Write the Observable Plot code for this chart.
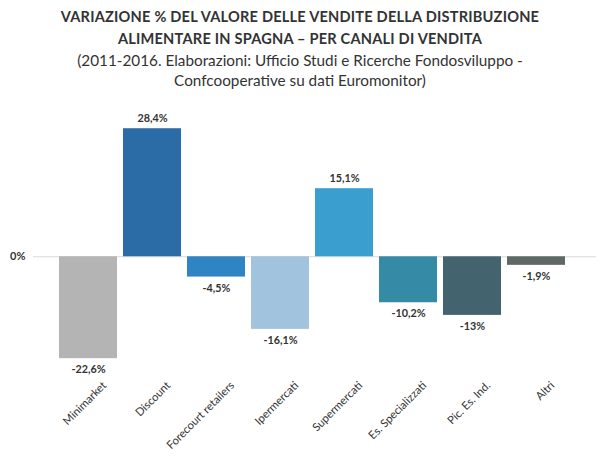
<!DOCTYPE html>
<html>
<head>
<meta charset="utf-8">
<script src="https://cdn.jsdelivr.net/npm/d3@7"></script>
<script src="https://cdn.jsdelivr.net/npm/@observablehq/plot@0.6"></script>
<style>
  html, body { margin: 0; padding: 0; background: #fff; }
  body { width: 600px; height: 458px; overflow: hidden; font-family: Lato, "Open Sans", sans-serif; }
  #title { text-align: center; color: #333; font-weight: 700; font-size: 14.6px; line-height: 22px; letter-spacing: 0.2px; margin-top: 6px; }
  #subtitle { text-align: center; color: #333; font-size: 15.3px; line-height: 20px; margin-top: 0px; }
  #chart { position: absolute; top: 95px; left: 0; }
</style>
</head>
<body>
<div id="title">VARIAZIONE % DEL VALORE DELLE VENDITE DELLA DISTRIBUZIONE<br>ALIMENTARE IN SPAGNA – PER CANALI DI VENDITA</div>
<div id="subtitle">(2011-2016. Elaborazioni: Ufficio Studi e Ricerche Fondosviluppo -<br>Confcooperative su dati Euromonitor)</div>
<div id="chart"></div>
<script>
const categories = ["Minimarket", "Discount", "Forecourt retailers", "Ipermercati", "Supermercati", "Es. Specializzati", "Pic. Es. Ind.", "Altri"];
const values = [-22.6, 28.4, -4.5, -16.1, 15.1, -10.2, -13, -1.9];
const colors = ["#b4b4b4", "#2b6ca6", "#2f84c3", "#a2c3dd", "#3a9fcf", "#358ba5", "#43646e", "#5e6966"];

const data = categories.map((c, i) => ({cat: c, value: values[i], color: colors[i]}));
const fmt = v => String(v).replace(".", ",") + "%";

const chart = Plot.plot({
  width: 600,
  height: 363,
  marginLeft: 33,
  marginRight: 4,
  marginTop: 17,
  marginBottom: 89,
  style: {fontFamily: "Lato, 'Open Sans', sans-serif", color: "#333", background: "#fff"},
  x: {domain: categories, range: [56, 568], paddingInner: 0.094, paddingOuter: 0.047, label: null},
  y: {domain: [-25, 32], range: [274, 17], label: null},
  marks: [
    Plot.ruleY([0], {stroke: "#d9d9d9", strokeWidth: 1}),
    Plot.barY(data, {x: "cat", y: "value", fill: "color"}),
    Plot.text(data, {x: "cat", y: "value", text: d => fmt(d.value), fontWeight: 700, fontSize: 10.8, fill: "#333",
      lineAnchor: "middle", filter: d => d.value >= 0, dy: -10}),
    Plot.text(data, {x: "cat", y: "value", text: d => fmt(d.value), fontWeight: 700, fontSize: 10.8, fill: "#333",
      lineAnchor: "middle", filter: d => d.value < 0, dy: 11}),
    Plot.axisX({tickSize: 0, tickPadding: 14, tickRotate: -45, fontSize: 11.2, fill: "#333", label: null, dx: 16}),
    Plot.axisY({ticks: [0], tickFormat: d => d + "%", tickSize: 0, tickPadding: 8, fontSize: 11, fontWeight: 700, fill: "#333", label: null})
  ]
});
document.getElementById("chart").appendChild(chart);
</script>
</body>
</html>
